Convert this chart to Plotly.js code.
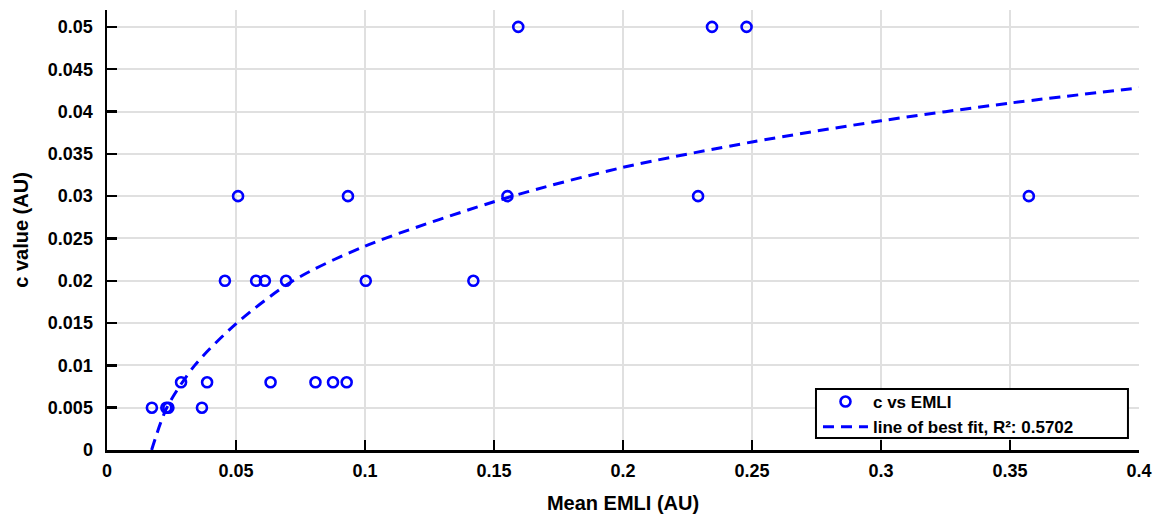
<!DOCTYPE html>
<html>
<head>
<meta charset="utf-8">
<script src="https://cdn.plot.ly/plotly-3.0.1.min.js"></script>
<style>html,body{margin:0;padding:0;background:#fff;}#chart{width:1153px;height:518px;}</style>
</head>
<body>
<div id="chart"></div>
<script>
// Scatter data: Mean EMLI (AU) vs c value (AU)
const emli = [0.0174, 0.0230, 0.0238, 0.0368, 0.0287, 0.0388, 0.0457, 0.0508, 0.0578, 0.0612, 0.0694,
              0.0634, 0.0808, 0.0876, 0.0929, 0.0934, 0.1003, 0.1420, 0.1552, 0.1594, 0.2291, 0.2345, 0.2479, 0.3573];
const cValue = [0.005, 0.005, 0.005, 0.005, 0.008, 0.008, 0.02, 0.03, 0.02, 0.02, 0.02,
                0.008, 0.008, 0.008, 0.008, 0.03, 0.02, 0.02, 0.03, 0.05, 0.03, 0.05, 0.05, 0.03];

// Line of best fit
const fitX = [0.0173, 0.0232, 0.0340, 0.0503, 0.0721, 0.100, 0.156, 0.200, 0.250, 0.300, 0.350, 0.400];
const fitY = [0.0, 0.005, 0.010, 0.015, 0.020, 0.0241, 0.0299, 0.0334, 0.0364, 0.0389, 0.0410, 0.0428];

const seriesNames = ['c vs EMLI', 'line of best fit, R\u00b2: 0.5702'];
const xTitle = 'Mean EMLI (AU)';
const yTitle = 'c value (AU)';

const fam = 'Liberation Sans, Arial, sans-serif';
const tickFont = {family: fam, size: 18, color: '#000', weight: 'bold'};
const titleFont = {family: fam, size: 20, color: '#000', weight: 'bold'};

const traces = [
  {
    x: emli, y: cValue, type: 'scatter', mode: 'markers', name: seriesNames[0],
    marker: {symbol: 'circle-open', size: 10, color: '#0000ff', line: {width: 2.6, color: '#0000ff'}},
    cliponaxis: false
  },
  {
    x: fitX, y: fitY, type: 'scatter', mode: 'lines', name: seriesNames[1],
    line: {color: '#0000ff', width: 3, dash: '11px,7px', shape: 'spline', smoothing: 0.8}
  }
];

const layout = {
  width: 1153, height: 518,
  margin: {l: 107, r: 14, t: 10, b: 68},
  paper_bgcolor: '#fff', plot_bgcolor: '#fff',
  font: {family: fam, size: 17, color: '#000', weight: 'bold'},
  showlegend: true,
  legend: {
    x: 0.687, y: 0.1545, xanchor: 'left', yanchor: 'top',
    bgcolor: 'rgba(0,0,0,0)', bordercolor: 'rgba(0,0,0,0)', borderwidth: 2,
    font: {family: fam, size: 17, color: '#000', weight: 'bold'},
    itemwidth: 45, tracegroupgap: 0
  },
  shapes: [
    {type: 'rect', xref: 'paper', yref: 'paper', x0: 0.687, x1: 0.9893, y0: 0.0273, y1: 0.1386,
     fillcolor: '#fff', line: {color: '#000', width: 2}, layer: 'above'}
  ],
  xaxis: {
    range: [0, 0.4], dtick: 0.05, tick0: 0,
    showgrid: true, gridcolor: '#e0e0e0', gridwidth: 2,
    zeroline: false, showline: true, linecolor: '#000', linewidth: 2.5,
    ticks: 'inside', ticklen: 10, tickwidth: 2.5, tickcolor: '#000',
    ticklabelstandoff: 3,
    tickfont: tickFont,
    title: {text: xTitle, font: titleFont, standoff: 16}
  },
  yaxis: {
    range: [0, 0.052], dtick: 0.005, tick0: 0,
    showgrid: true, gridcolor: '#e0e0e0', gridwidth: 2,
    zeroline: false, showline: true, linecolor: '#000', linewidth: 2.5,
    ticks: 'inside', ticklen: 10, tickwidth: 2.5, tickcolor: '#000',
    ticklabelstandoff: 8,
    tickfont: tickFont,
    title: {text: yTitle, font: titleFont, standoff: 14}
  }
};

Plotly.newPlot('chart', traces, layout, {displayModeBar: false, staticPlot: true});
</script>
</body>
</html>
